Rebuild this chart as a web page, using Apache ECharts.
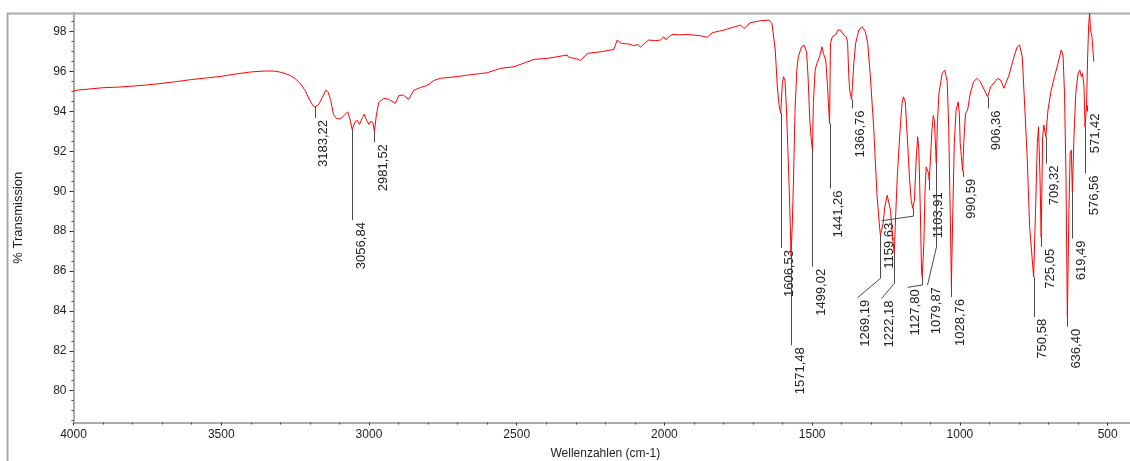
<!DOCTYPE html>
<html>
<head>
<meta charset="utf-8">
<script src="https://cdn.jsdelivr.net/npm/echarts@6/dist/echarts.min.js"></script>
<style>
  html, body { margin: 0; padding: 0; background: #ffffff; overflow: hidden; }
  #chart { width: 1130px; height: 461px; }
</style>
</head>
<body>
<div id="chart"></div>
<script>
// IR spectrum: wavenumber (cm-1) against % transmission
const wavenumbers = [
  4000, 3950, 3900, 3850, 3800, 3750, 3700, 3650, 3600, 3550,
  3500, 3450, 3400, 3350, 3320, 3300, 3280, 3266, 3250, 3233,
  3216, 3200, 3190, 3183.22, 3170, 3158, 3146, 3138, 3130, 3120,
  3110, 3098, 3085, 3072, 3066, 3056.84, 3048, 3040, 3032, 3022,
  3016, 3008, 3000, 2993, 2986, 2981.52, 2975, 2967, 2950, 2935,
  2927, 2911, 2899, 2883, 2866, 2849, 2826, 2803, 2781, 2758,
  2700, 2668, 2600, 2555, 2510, 2470, 2442, 2397, 2360, 2329,
  2324, 2300, 2284, 2261, 2216, 2171, 2165, 2160, 2150, 2143,
  2120, 2104, 2090, 2081, 2065, 2053, 2030, 2014, 2002, 1996,
  1991, 1974, 1950, 1923, 1880, 1855, 1838, 1799, 1742, 1731,
  1709, 1675, 1646, 1636, 1625, 1618, 1612, 1606.53, 1601, 1597,
  1592, 1587, 1579, 1574, 1571.48, 1567, 1563, 1558, 1552, 1547,
  1536, 1528, 1519, 1514, 1508, 1504, 1499.02, 1496, 1490, 1484,
  1475, 1467, 1462, 1454, 1448, 1445, 1441.26, 1438, 1432, 1421,
  1413, 1404, 1393, 1384, 1380, 1376, 1373, 1366.76, 1364, 1359,
  1353, 1342, 1331, 1320, 1312, 1303, 1292, 1281, 1273, 1269.19,
  1260, 1254, 1246, 1240, 1235, 1228, 1222.18, 1219, 1212, 1204,
  1196, 1191, 1185, 1178, 1171, 1165, 1159.63, 1154, 1148, 1143,
  1139, 1134, 1130, 1127.8, 1122, 1118, 1114, 1110, 1106, 1103.91,
  1100, 1095, 1090, 1086, 1082, 1079.87, 1076, 1071, 1060, 1051,
  1043, 1038, 1033, 1028.76, 1024, 1019, 1013, 1006, 1002, 999,
  995, 990.59, 987, 981, 974, 965, 954, 942, 931, 917,
  906.36, 896, 881, 873, 862, 851, 834, 817, 806, 798,
  789, 780, 772, 764, 750.58, 744, 738, 734, 729, 725.05,
  720, 716, 709.32, 702, 691, 680, 668, 657, 651, 646,
  641, 636.4, 631, 627, 623, 619.49, 614, 608, 600, 594,
  589, 585, 580, 576.56, 571.42, 568, 564, 561, 558, 553,
  550, 547
];

const transmission = [
  95.05, 95.12, 95.19, 95.22, 95.27, 95.33, 95.41, 95.50, 95.60, 95.68,
  95.76, 95.88, 95.98, 96.03, 96.02, 95.97, 95.88, 95.80, 95.65, 95.41,
  95.05, 94.55, 94.30, 94.22, 94.35, 94.70, 95.07, 94.95, 94.60, 93.85,
  93.65, 93.62, 93.78, 93.98, 93.70, 93.10, 93.45, 93.55, 93.35, 93.70,
  93.86, 93.55, 93.35, 93.52, 93.40, 93.00, 93.80, 94.45, 94.65, 94.62,
  94.55, 94.40, 94.80, 94.82, 94.60, 95.05, 95.20, 95.30, 95.55, 95.66,
  95.75, 95.82, 95.94, 96.16, 96.24, 96.45, 96.61, 96.66, 96.75, 96.83,
  96.71, 96.65, 96.56, 96.91, 96.99, 97.11, 97.15, 97.58, 97.45, 97.41,
  97.38, 97.30, 97.36, 97.22, 97.45, 97.58, 97.55, 97.58, 97.74, 97.60,
  97.58, 97.86, 97.84, 97.86, 97.80, 97.72, 97.95, 98.08, 98.33, 98.16,
  98.45, 98.55, 98.58, 98.41, 97.08, 95.24, 94.32, 93.90, 95.41, 95.74,
  95.57, 94.07, 90.72, 88.22, 86.75, 88.50, 90.72, 94.07, 96.07, 96.74,
  97.24, 97.33, 96.99, 95.74, 93.57, 92.73, 92.06, 94.40, 96.07, 96.41,
  96.74, 97.24, 96.91, 96.58, 95.24, 94.40, 93.40, 97.41, 97.74, 97.83,
  98.08, 98.08, 97.83, 97.74, 97.41, 95.74, 95.07, 94.60, 95.24, 96.41,
  97.41, 98.08, 98.25, 98.00, 97.41, 95.74, 93.23, 89.89, 88.39, 87.80,
  88.39, 89.22, 89.80, 89.72, 89.05, 87.71, 86.88, 88.22, 90.72, 92.73,
  94.40, 94.73, 94.48, 92.73, 90.72, 89.55, 89.14, 89.55, 91.56, 92.73,
  92.06, 89.05, 86.04, 85.70, 87.38, 90.06, 91.22, 91.30, 90.90, 90.55,
  91.50, 93.00, 93.80, 93.50, 92.00, 91.39, 93.50, 94.90, 95.91, 96.07,
  95.49, 93.23, 89.05, 85.30, 89.05, 92.40, 94.07, 94.48, 93.90, 92.40,
  91.73, 91.00, 92.40, 93.90, 94.07, 94.90, 95.49, 95.66, 95.49, 95.07,
  94.73, 95.24, 95.49, 95.66, 95.57, 95.16, 95.82, 96.74, 97.24, 97.33,
  96.74, 94.07, 91.56, 88.22, 85.70, 89.05, 92.40, 93.23, 90.72, 87.71,
  92.73, 93.32, 92.73, 94.07, 95.07, 95.74, 96.41, 97.08, 96.83, 94.90,
  90.72, 83.75, 89.05, 91.90, 92.06, 90.00, 92.73, 94.90, 95.91, 96.07,
  95.74, 95.91, 95.24, 93.23, 94.30, 96.58, 98.42, 98.92, 98.08, 97.74,
  97.83, 96.49
];

// Labelled band positions
const peakLabels = [
  '3183,22', '3056,84', '2981,52', '1606,53', '1571,48', '1499,02',
  '1441,26', '1366,76', '1269,19', '1222,18', '1159,63', '1127,80',
  '1103,91', '1079,87', '1028,76', '990,59', '906,36', '750,58',
  '725,05', '709,32', '636,40', '619,49', '576,56', '571,42'
];
const peakWavenumbers = [
  3183.22, 3056.84, 2981.52, 1606.53, 1571.48, 1499.02,
  1441.26, 1366.76, 1269.19, 1222.18, 1159.63, 1127.8,
  1103.91, 1079.87, 1028.76, 990.59, 906.36, 750.58,
  725.05, 709.32, 636.4, 619.49, 576.56, 571.42
];
// Transmission where each vertical leader stops
const leaderBendT = [
  93.67, 88.55, 92.46, 87.15, 82.28, 86.21,
  90.14, 94.15, 85.63, 85.38, 88.75, 85.30,
  90.05, 87.21, 84.70, 90.72, 94.15, 83.70,
  87.21, 91.39, 83.20, 87.63, 90.89, 94.00
];
// Optional slanted leader end (wavenumber, transmission)
const leaderEndWavenumber = [
  null, null, null, null, null, null,
  null, null, 1350, 1268, 1268, 1180,
  null, 1111, null, null, null, null,
  null, null, null, null, null, null
];
const leaderEndT = [
  null, null, null, null, null, null,
  null, null, 84.66, 84.62, 88.52, 85.18,
  null, 85.29, null, null, null, null,
  null, null, null, null, null, null
];

const xMajorTicks = [4000, 3500, 3000, 2500, 2000, 1500, 1000, 500];
const yMajorTicks = [80, 82, 84, 86, 88, 90, 92, 94, 96, 98];

const xMinorTicks = [];
for (let v = 500; v <= 4000; v += 100) if (v % 500 !== 0) xMinorTicks.push(v);
const yMinorTicks = [];
for (let v = 78.5; v <= 98.5; v += 0.5) if (v % 2 !== 0) yMinorTicks.push(v);

const spectrum = wavenumbers.map((w, i) => [w, transmission[i]]);
const peakT = peakWavenumbers.map(w => transmission[wavenumbers.indexOf(w)]);
const peaks = peakWavenumbers.map((w, i) => [w, peakT[i]]);

const FONT = '"Liberation Sans", Arial, sans-serif';
const X_MIN = 400, X_MAX = 4000, Y_MIN = 78.404, Y_MAX = 98.936;

const chart = echarts.init(document.getElementById('chart'), null, { renderer: 'canvas' });

const axisText = { fontFamily: FONT, fontSize: 12, color: '#1e1e1e' };

chart.setOption({
  animation: false,
  backgroundColor: '#ffffff',
  // plot runs past the right edge of the canvas down to 400 cm-1
  grid: {
    left: 73.5, width: 1063.7, top: 13, height: 409.5,
    containLabel: false, outerBoundsMode: 'none'
  },
  graphic: [{
    type: 'polyline',
    silent: true,
    shape: { points: [[7.5, 461], [7.5, 13.5], [1130, 13.5]] },
    style: { stroke: '#a9a9a9', lineWidth: 2, fill: null },
    z: 0
  }],
  xAxis: [{
    type: 'value', position: 'bottom', inverse: true, min: X_MIN, max: X_MAX,
    name: 'Wellenzahlen (cm-1)', nameLocation: 'middle', nameGap: 25,
    nameTextStyle: axisText,
    axisLine: { show: true, onZero: false, lineStyle: { color: '#ababab', width: 2 } },
    axisTick: { show: true, customValues: xMajorTicks, length: 3, lineStyle: { color: '#333', width: 1 } },
    axisLabel: { customValues: xMajorTicks, margin: 6, formatter: v => String(v), ...axisText },
    splitLine: { show: false }
  }, {
    type: 'value', position: 'bottom', inverse: true, min: X_MIN, max: X_MAX,
    axisLine: { show: false, onZero: false },
    axisTick: { show: true, customValues: xMinorTicks, length: 2, lineStyle: { color: '#444', width: 1 } },
    axisLabel: { show: false },
    splitLine: { show: false }
  }],
  yAxis: [{
    type: 'value', position: 'left', min: Y_MIN, max: Y_MAX,
    name: '% Transmission', nameLocation: 'middle', nameGap: 49, nameRotate: 90,
    nameTextStyle: { fontFamily: FONT, fontSize: 13, color: '#1e1e1e' },
    axisLine: { show: true, onZero: false, lineStyle: { color: '#ababab', width: 2 } },
    axisTick: { show: true, customValues: yMajorTicks, length: 4, lineStyle: { color: '#333', width: 1 } },
    axisLabel: { customValues: yMajorTicks, margin: 7, formatter: v => String(v), ...axisText },
    splitLine: { show: false }
  }, {
    type: 'value', position: 'left', min: Y_MIN, max: Y_MAX,
    axisLine: { show: false, onZero: false },
    axisTick: { show: true, customValues: yMinorTicks, length: 2, lineStyle: { color: '#444', width: 1 } },
    axisLabel: { show: false },
    splitLine: { show: false }
  }],
  series: [{
    type: 'custom',
    name: 'bands',
    xAxisIndex: 0, yAxisIndex: 0,
    coordinateSystem: 'cartesian2d',
    encode: { x: 0, y: 1 },
    data: peaks,
    silent: true,
    clip: false,
    z: 2,
    renderItem: function (params, api) {
      const i = params.dataIndex;
      const p0 = api.coord([peakWavenumbers[i], peakT[i]]);
      const p1 = api.coord([peakWavenumbers[i], leaderBendT[i]]);
      const pts = [p0, p1];
      let end = p1;
      if (leaderEndWavenumber[i] != null) {
        end = api.coord([leaderEndWavenumber[i], leaderEndT[i]]);
        pts.push(end);
      }
      return {
        type: 'group',
        children: [{
          type: 'polyline',
          shape: { points: pts.map(p => [Math.round(p[0]) + 0.5, p[1]]) },
          style: { stroke: '#4a4a4a', lineWidth: 1, fill: null }
        }, {
          type: 'text',
          x: end[0] + 9,
          y: end[1] + 2,
          rotation: Math.PI / 2,
          style: {
            text: peakLabels[i],
            align: 'right',
            verticalAlign: 'middle',
            fill: '#222222',
            font: '13px ' + FONT
          }
        }]
      };
    }
  }, {
    type: 'line',
    name: 'spectrum',
    xAxisIndex: 0, yAxisIndex: 0,
    data: spectrum,
    showSymbol: false,
    symbol: 'none',
    sampling: false,
    smooth: false,
    silent: true,
    z: 3,
    lineStyle: { color: '#ff0000', width: 1 }
  }]
});
</script>
</body>
</html>
